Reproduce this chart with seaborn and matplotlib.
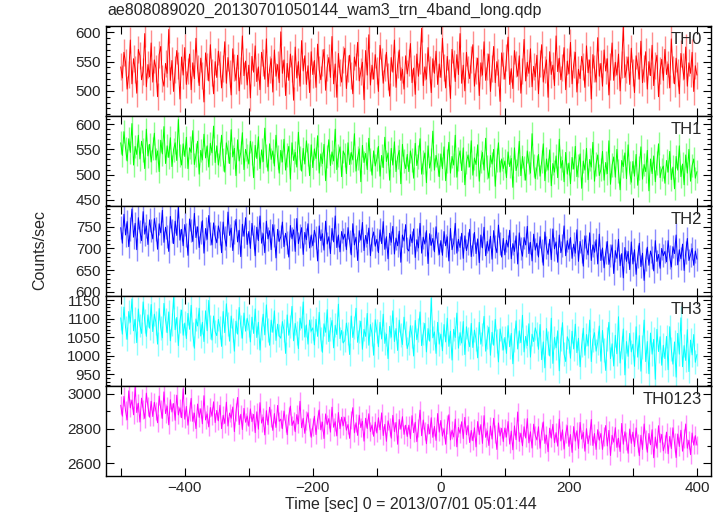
import numpy as np
import pandas as pd
import matplotlib
matplotlib.use('Agg')
import matplotlib.pyplot as plt
from matplotlib.ticker import MultipleLocator
import seaborn as sns

# light curves, 2.5 s bins starting at t = -500 s
t_start = -500.0
t_bin = 2.5

th0 = [541, 522, 566, 549, 503, 528, 587, 512, 555, 537, 496, 571, 560, 519, 533, 598, 507, 545, 524, 582,
       515, 553, 539, 490, 562, 576, 521, 508, 547, 530, 605, 518, 552, 499, 536, 569, 543, 486, 558, 527,
       574, 511, 534, 563, 502, 548, 521, 590, 538, 509, 556, 527, 481, 565, 542, 517, 579, 531, 495, 550,
       523, 568, 546, 505, 539, 584, 513, 557, 529, 493, 572, 540, 518, 561, 500, 535, 594, 526, 551, 510,
       544, 488, 559, 532, 577, 516, 541, 502, 566, 548, 520, 589, 507, 537, 555, 498, 570, 525, 545, 514,
       601, 530, 553, 492, 547, 518, 563, 539, 484, 575, 522, 550, 508, 586, 534, 560, 511, 543, 497, 567,
       528, 552, 506, 580, 536, 519, 548, 571, 501, 540, 557, 523, 593, 512, 546, 489, 564, 531, 515, 554,
       573, 504, 538, 561, 526, 495, 558, 542, 583, 517, 533, 549, 485, 569, 527, 596, 510, 544, 520, 562,
       535, 499, 578, 551, 513, 540, 566, 524, 491, 557, 532, 587, 506, 545, 570, 518, 537, 503, 560, 529,
       548, 581, 514, 539, 494, 563, 525, 552, 607, 509, 541, 520, 574, 536, 497, 555, 530, 568, 511, 546,
       523, 590, 540, 505, 559, 532, 487, 571, 547, 516, 562, 528, 598, 513, 544, 500, 566, 537, 521, 553,
       579, 508, 535, 556, 492, 548, 527, 584, 518, 541, 563, 499, 539, 576, 514, 550, 531, 482, 565, 543,
       520, 557, 592, 511, 538, 504, 569, 546, 525, 560, 496, 534, 588, 517, 549, 530, 572, 507, 542, 524,
       561, 495, 547, 579, 515, 536, 553, 489, 567, 528, 544, 509, 594, 533, 556, 519, 540, 574, 502, 551,
       529, 583, 512, 545, 566, 498, 537, 521, 559, 542, 506, 577, 531, 553, 486, 562, 539, 515, 591, 525,
       547, 508, 570, 534, 555, 493, 541, 582, 518, 549, 527, 563, 500, 545, 610, 523, 536, 558, 511, 573,
       532, 497, 560, 543, 520, 585, 514, 539, 567, 503, 550, 526, 578, 509, 544, 561, 490, 535, 554, 518,
       571, 528, 546, 505, 589, 537, 512, 556, 531, 495, 564, 541, 520, 575, 508, 548, 530, 566, 499, 543,
       527]

th1 = [563, 538, 585, 552, 527, 571, 544, 601, 519, 556, 540, 578, 531, 566, 549, 512, 590, 537, 560, 525,
       551, 582, 529, 547, 506, 568, 541, 595, 522, 557, 534, 573, 516, 549, 563, 528, 609, 538, 519, 561,
       536, 574, 512, 553, 544, 587, 520, 539, 566, 501, 548, 529, 580, 533, 557, 515, 562, 543, 596, 524,
       557, 519, 541, 578, 530, 505, 563, 546, 522, 589, 535, 552, 498, 569, 527, 544, 583, 510, 550, 537,
       521, 566, 543, 494, 558, 532, 575, 512, 549, 526, 592, 538, 507, 561, 530, 547, 517, 578, 535, 503,
       548, 525, 570, 509, 539, 556, 491, 563, 528, 544, 515, 584, 533, 507, 552, 521, 567, 540, 498, 559,
       514, 551, 532, 577, 503, 541, 522, 560, 488, 536, 569, 518, 545, 527, 590, 510, 538, 555, 496, 547,
       539, 502, 563, 520, 544, 529, 581, 507, 533, 551, 486, 558, 524, 542, 510, 572, 530, 499, 547, 517,
       531, 556, 497, 538, 514, 574, 526, 543, 489, 552, 519, 565, 506, 535, 548, 482, 560, 527, 512, 540,
       506, 547, 529, 493, 562, 518, 535, 571, 501, 525, 543, 484, 557, 513, 530, 586, 509, 538, 520, 496,
       541, 512, 555, 488, 527, 564, 503, 536, 519, 578, 495, 531, 547, 508, 553, 480, 524, 539, 515, 567,
       499, 533, 520, 559, 487, 526, 544, 509, 572, 515, 493, 538, 521, 550, 477, 529, 563, 505, 531, 512,
       527, 494, 545, 516, 532, 475, 553, 508, 521, 566, 498, 536, 513, 489, 547, 524, 503, 581, 518, 492,
       515, 540, 497, 526, 561, 488, 531, 509, 549, 478, 522, 505, 537, 494, 570, 513, 528, 486, 544, 501,
       523, 482, 534, 511, 556, 496, 518, 541, 473, 527, 509, 552, 490, 530, 515, 564, 487, 521, 539, 498,
       510, 546, 489, 524, 502, 567, 481, 519, 535, 495, 550, 507, 470, 528, 516, 543, 492, 559, 504, 485,
       526, 497, 540, 479, 513, 555, 491, 520, 506, 548, 468, 531, 502, 537, 486, 523, 561, 494, 510, 517,
       483, 528, 505, 546, 490, 515, 472, 536, 509, 557, 496, 521, 480, 539, 503, 550, 487, 518, 531, 493,
       506]

th2 = [748, 712, 779, 731, 762, 704, 745, 791, 726, 758, 697, 771, 739, 718, 785, 733, 752, 709, 766, 741,
       722, 769, 745, 698, 757, 736, 788, 714, 749, 727, 693, 774, 740, 711, 763, 730, 797, 719, 744, 706,
       755, 731, 684, 768, 742, 716, 781, 725, 750, 702, 737, 764, 689, 746, 721, 776, 734, 708, 759, 727,
       713, 752, 736, 690, 761, 724, 705, 784, 730, 747, 695, 738, 767, 715, 742, 681, 756, 728, 771, 709,
       739, 700, 758, 726, 683, 749, 718, 775, 712, 734, 690, 763, 722, 741, 697, 755, 730, 678, 744, 716,
       727, 761, 704, 735, 714, 680, 753, 722, 743, 693, 769, 711, 729, 748, 686, 737, 720, 757, 701, 731,
       706, 742, 725, 671, 752, 718, 734, 696, 763, 710, 727, 688, 746, 715, 775, 702, 731, 692, 739, 721,
       733, 697, 748, 716, 685, 757, 708, 726, 672, 741, 719, 760, 695, 730, 711, 747, 683, 722, 738, 705,
       721, 690, 743, 711, 762, 698, 727, 676, 735, 714, 751, 687, 724, 706, 740, 668, 731, 717, 755, 699,
       694, 732, 713, 745, 679, 720, 701, 758, 689, 726, 710, 741, 665, 734, 707, 723, 692, 750, 712, 686,
       718, 684, 739, 706, 727, 671, 746, 697, 713, 758, 689, 721, 702, 735, 677, 729, 695, 712, 744, 681,
       709, 737, 688, 722, 667, 731, 701, 749, 683, 716, 694, 728, 675, 741, 705, 690, 754, 711, 680, 723,
       685, 719, 703, 742, 676, 711, 693, 729, 664, 736, 700, 682, 725, 708, 751, 688, 714, 671, 733, 696,
       712, 680, 727, 695, 661, 738, 702, 686, 721, 674, 745, 699, 715, 668, 731, 690, 706, 752, 683, 718,
       698, 725, 677, 710, 689, 743, 670, 716, 694, 659, 729, 703, 685, 736, 672, 708, 691, 720, 664, 733,
       672, 701, 655, 690, 716, 663, 684, 708, 642, 695, 677, 721, 660, 688, 632, 702, 670, 693, 651, 715,
       664, 697, 640, 681, 712, 658, 689, 626, 675, 703, 661, 694, 679, 648, 718, 670, 686, 654, 700, 683,
       693, 669, 718, 680, 657, 704, 688, 731, 662, 697, 676, 710, 649, 691, 723, 672, 685, 700, 661, 694,
       675]

th3 = [1102, 1058, 1131, 1076, 1044, 1119, 1090, 1153, 1067, 1098, 1035, 1126, 1081, 1060, 1145, 1093, 1052, 1110, 1074, 1138,
       1065, 1112, 1089, 1031, 1127, 1075, 1048, 1141, 1096, 1062, 1118, 1040, 1084, 1157, 1070, 1103, 1027, 1094, 1123, 1055,
       1088, 1046, 1114, 1071, 1136, 1059, 1020, 1099, 1080, 1128, 1053, 1090, 1038, 1121, 1067, 1149, 1077, 1042, 1107, 1065,
       1054, 1098, 1076, 1025, 1119, 1062, 1140, 1085, 1039, 1107, 1070, 1012, 1093, 1058, 1130, 1079, 1047, 1115, 1066, 1101,
       1081, 1037, 1104, 1060, 1126, 1049, 1090, 1015, 1073, 1112, 1056, 1137, 1069, 1028, 1096, 1063, 1121, 1041, 1085, 1054,
       1047, 1092, 1068, 1006, 1110, 1055, 1079, 1133, 1040, 1087, 1062, 1019, 1101, 1074, 1145, 1050, 1083, 1031, 1096, 1066,
       1075, 1029, 1098, 1052, 1117, 1044, 1009, 1086, 1063, 1124, 1038, 1071, 1095, 1021, 1082, 1057, 1139, 1046, 1068, 1034,
       1041, 1088, 1060, 1003, 1107, 1049, 1076, 1128, 1036, 1065, 1093, 1017, 1071, 1052, 1114, 1028, 1084, 1059, 1001, 1097,
       1067, 1024, 1090, 1045, 1112, 1033, 1058, 992, 1079, 1050, 1121, 1038, 1073, 1014, 1096, 1055, 1030, 1104, 1062, 1019,
       1035, 1081, 1052, 999, 1095, 1043, 1069, 1118, 1027, 1060, 1087, 1010, 1073, 1039, 1155, 1048, 1064, 1006, 1090, 1031,
       1058, 1013, 1084, 1037, 1101, 1025, 1066, 988, 1071, 1049, 1115, 1020, 1062, 1034, 1092, 1003, 1078, 1045, 1024, 1087,
       1022, 1069, 1044, 994, 1090, 1031, 1057, 1106, 1012, 1050, 1077, 1001, 1063, 1028, 1098, 1040, 983, 1072, 1047, 1015,
       1049, 1006, 1081, 1024, 1060, 978, 1043, 1094, 1018, 1067, 1035, 1109, 1010, 1052, 1027, 1086, 996, 1058, 1038, 1075,
       1059, 1017, 1084, 989, 1037, 967, 1073, 1034, 999, 1101, 979, 1049, 1021, 1067, 959, 1044, 1089, 1004, 984, 1051,
       1039, 993, 1066, 1018, 1085, 1008, 1047, 970, 1029, 1074, 1001, 1057, 1026, 1096, 984, 1043, 1062, 1012, 1035, 1080,
       985, 1068, 1015, 960, 1045, 1090, 992, 1032, 972, 1055, 1005, 1105, 980, 1022, 1072, 948, 1038, 998, 1060, 1010,
       1031, 971, 1078, 996, 1054, 958, 1024, 1096, 984, 1038, 951, 1061, 1004, 1044, 936, 1071, 1011, 1051, 974, 1028,
       992, 1052, 962, 1078, 1017, 977, 1037, 942, 1060, 1004, 1102, 970, 1027, 987, 1070, 957, 1042, 1002, 1057, 982,
       1003]

th0123 = [2935, 2872, 2986, 2904, 2851, 3018, 2920, 2965, 2880, 3040, 2893, 2947, 2838, 2976, 2911, 2859, 3005, 2928, 2866, 2958,
          2870, 2952, 2901, 2834, 2988, 2915, 2859, 3012, 2887, 2930, 2822, 2967, 2896, 2945, 2848, 2993, 2879, 2920, 2863, 3030,
          2855, 2928, 2820, 2900, 2975, 2842, 2890, 2800, 2942, 2865, 2915, 2828, 2990, 2850, 2885, 2810, 2922, 2872, 2955, 2835,
          2905, 2845, 2935, 2800, 2877, 2830, 2953, 2815, 2890, 2860, 2925, 2783, 2895, 2980, 2823, 2883, 2795, 2917, 2837, 2873,
          2814, 2914, 2840, 2882, 2777, 2897, 2797, 2950, 2832, 2867, 2764, 2904, 2822, 2924, 2860, 2790, 2887, 2807, 2934, 2842,
          2855, 2800, 2902, 2832, 2765, 2873, 2930, 2818, 2845, 2782, 2881, 2828, 2958, 2805, 2860, 2773, 2848, 2892, 2810, 2750,
          2810, 2872, 2766, 2853, 2908, 2793, 2838, 2743, 2885, 2823, 2858, 2780, 2924, 2808, 2840, 2758, 2893, 2800, 2866, 2818,
          2866, 2791, 2824, 2744, 2851, 2921, 2776, 2834, 2761, 2878, 2806, 2843, 2728, 2860, 2801, 2886, 2783, 2821, 2756, 2838,
          2775, 2863, 2793, 2891, 2760, 2825, 2727, 2845, 2808, 2745, 2877, 2783, 2836, 2710, 2853, 2797, 2869, 2767, 2820, 2755,
          2820, 2743, 2875, 2777, 2837, 2725, 2805, 2907, 2759, 2850, 2787, 2713, 2825, 2770, 2863, 2750, 2813, 2732, 2887, 2780,
          2847, 2757, 2800, 2710, 2823, 2880, 2735, 2792, 2752, 2855, 2695, 2807, 2773, 2840, 2743, 2865, 2765, 2818, 2720, 2790,
          2730, 2805, 2695, 2841, 2765, 2823, 2715, 2875, 2750, 2787, 2703, 2815, 2740, 2860, 2770, 2680, 2833, 2757, 2802, 2725,
          2804, 2751, 2841, 2711, 2786, 2678, 2816, 2736, 2896, 2726, 2774, 2701, 2811, 2746, 2858, 2718, 2782, 2688, 2826, 2761,
          2735, 2811, 2687, 2785, 2839, 2715, 2763, 2667, 2803, 2745, 2825, 2719, 2777, 2699, 2855, 2729, 2793, 2682, 2771, 2817,
          2698, 2766, 2663, 2812, 2728, 2788, 2686, 2836, 2740, 2778, 2670, 2800, 2713, 2758, 2853, 2703, 2772, 2680, 2794, 2733,
          2772, 2680, 2755, 2818, 2700, 2790, 2645, 2762, 2722, 2806, 2692, 2745, 2668, 2830, 2710, 2782, 2730, 2658, 2798, 2715,
          2780, 2697, 2804, 2717, 2644, 2762, 2680, 2827, 2737, 2664, 2772, 2707, 2794, 2632, 2752, 2687, 2817, 2720, 2767, 2672,
          2710, 2780, 2655, 2755, 2685, 2805, 2720, 2633, 2769, 2697, 2791, 2670, 2743, 2827, 2687, 2733, 2650, 2775, 2705, 2760,
          2705]

bands = ['TH0', 'TH1', 'TH2', 'TH3', 'TH0123']
series = [th0, th1, th2, th3, th0123]
errors = [23, 23, 27, 32, 53]   # typical 1-sigma per bin
colors = ['#ff0000', '#00ff00', '#0000ff', '#00ffff', '#ff00ff']
light = ['#ff8c8c', '#8cff8c', '#8c8cff', '#8cffff', '#ff8cff']
ylims = [(457, 611), (438, 616), (590, 798), (918, 1161), (2527, 3046)]
ymajor = [50, 50, 50, 50, 200]
yminor = [10, 10, 10, 10, 100]

sns.set_style('ticks')
plt.rcParams['font.family'] = ['Liberation Sans', 'DejaVu Sans']
plt.rcParams['font.size'] = 11

fig = plt.figure(figsize=(7.24, 5.16), dpi=100)
W, H = 724, 516
left, right = 106, 711
tops = [26, 116, 206, 296, 386]
ph = 90

for i, (band, vals) in enumerate(zip(bands, series)):
    ax = fig.add_axes([left / W, 1 - (tops[i] + ph) / H, (right - left) / W, ph / H])
    df = pd.DataFrame({'rate': vals})
    df['time'] = t_start + t_bin * np.arange(len(df))
    ax.vlines(df['time'], df['rate'] - errors[i], df['rate'] + errors[i],
              color=light[i], lw=1.0, zorder=1)
    sns.lineplot(data=df, x='time', y='rate', color=colors[i], lw=0.7,
                 ax=ax, zorder=2)
    ax.set_xlim(-523, 422)
    ax.set_ylim(*ylims[i])
    ax.xaxis.set_major_locator(MultipleLocator(200))
    ax.xaxis.set_minor_locator(MultipleLocator(100))
    ax.yaxis.set_major_locator(MultipleLocator(ymajor[i]))
    ax.yaxis.set_minor_locator(MultipleLocator(yminor[i]))
    ax.tick_params(which='both', direction='in', top=True, right=True,
                   labelsize=11, width=0.8, color='black')
    ax.tick_params(which='major', length=6)
    ax.tick_params(which='minor', length=3)
    ax.tick_params(axis='x', which='minor', length=6)
    ax.set_xlabel('')
    ax.set_ylabel('')
    for s in ax.spines.values():
        s.set_linewidth(1.0)
        s.set_color('black')
    if i < 4:
        ax.tick_params(labelbottom=False)
    ax.text(0.985, 0.935, band, transform=ax.transAxes, ha='right', va='top',
            fontsize=12)

fig.text(107 / W, 1 - 3 / H, 'ae808089020_20130701050144_wam3_trn_4band_long.qdp',
         ha='left', va='top', fontsize=11.5)
fig.text(40 / W, 1 - 250 / H, 'Counts/sec', rotation=90, ha='center', va='center',
         fontsize=11.5)
fig.text(411 / W, 1 - 505 / H, 'Time [sec] 0 = 2013/07/01 05:01:44',
         ha='center', va='center', fontsize=11.5)

fig.savefig('out.png', dpi=100)
